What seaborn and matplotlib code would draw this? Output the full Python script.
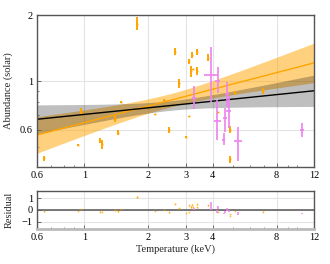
import numpy as np
import matplotlib
matplotlib.use("Agg")
import matplotlib.pyplot as plt
import seaborn as sns
from matplotlib.ticker import FixedLocator, FixedFormatter, NullFormatter

# orange sample: temperature, abundance, abundance error
kt_a = [0.65, 0.93, 0.966, 1.19, 1.21, 1.40, 1.44, 1.49, 1.76, 2.15,
        2.37, 2.51, 2.66, 2.78, 3.01, 3.10, 3.11, 3.16, 3.21, 3.23,
        3.38, 3.39, 3.81, 4.26, 4.84, 4.82, 5.10, 6.93]
ab_a = [0.445, 0.51, 0.73, 0.535, 0.514, 0.67, 0.58, 0.80, 1.83, 0.704,
        0.82, 0.597, 1.36, 0.976, 0.556, 1.23, 0.69, 1.11, 1.32, 1.13,
        1.36, 1.11, 1.28, 0.72, 0.60, 0.44, 0.88, 0.90]
err_a = [0.012, 0.005, 0.02, 0.014, 0.026, 0.021, 0.015, 0.008, 0.12, 0.005,
         0.005, 0.019, 0.05, 0.05, 0.005, 0.035, 0.005, 0.065, 0.04, 0.01,
         0.04, 0.047, 0.045, 0.005, 0.023, 0.016, 0.018, 0.03]

# violet sample: temperature (+/- err), abundance (-lo, +hi)
kt_b = [3.27, 3.94, 4.23, 4.22, 4.51, 4.58, 4.66, 4.77, 5.26, 10.5]
kt_b_err = [0.07, 0.30, 0.12, 0.15, 0.06, 0.12, 0.10, 0.13, 0.24, 0.20]
ab_b = [0.835, 1.06, 1.00, 0.66, 0.54, 0.676, 0.87, 0.732, 0.53, 0.60]
ab_b_lo = [0.09, 0.26, 0.12, 0.12, 0.03, 0.09, 0.11, 0.12, 0.10, 0.045]
ab_b_hi = [0.11, 0.37, 0.16, 0.16, 0.04, 0.074, 0.12, 0.12, 0.09, 0.045]

# power-law fits A = norm * (kT/pivot)**slope, log-space uncertainties
pivot = 2.5
fit_a = dict(norm=0.814, slope=0.253, s_norm=0.07, s_slope=0.125)
fit_b = dict(norm=0.772, slope=0.10, s_norm=0.05, s_slope=0.10)


def model(x, f):
    return f["norm"] * (np.asarray(x) / pivot) ** f["slope"]


def band(x, f):
    lx = np.log(np.asarray(x) / pivot)
    s = np.sqrt(f["s_norm"] ** 2 + (f["s_slope"] * lx) ** 2)
    m = model(x, f)
    return m * np.exp(-s), m * np.exp(s)


sns.set_style("ticks")
plt.rcParams["font.family"] = ["Liberation Serif", "DejaVu Serif"]
plt.rcParams["font.size"] = 7.5

fig = plt.figure(figsize=(3.3, 2.64), dpi=100)
ax = fig.add_axes([0.112, 0.367, 0.84, 0.576])
axr = fig.add_axes([0.112, 0.133, 0.84, 0.144])

xx = np.geomspace(0.6, 12, 200)
lo, hi = band(xx, fit_a)
ax.fill_between(xx, lo, hi, color="orange", alpha=0.5, lw=0, zorder=1)
lo, hi = band(xx, fit_b)
ax.fill_between(xx, lo, hi, color="black", alpha=0.25, lw=0, zorder=1)
sns.lineplot(x=xx, y=model(xx, fit_a), color="orange", lw=1, ax=ax, zorder=2)
sns.lineplot(x=xx, y=model(xx, fit_b), color="black", lw=1, ax=ax, zorder=2)

ax.errorbar(kt_a, ab_a, yerr=err_a, fmt="s", ms=1.3, mew=0, color="orange",
            elinewidth=1.4, capsize=0, zorder=3)
ax.errorbar(kt_b, ab_b, xerr=kt_b_err, yerr=[ab_b_lo, ab_b_hi], fmt="none",
            ecolor="violet", elinewidth=1.2, capsize=0, zorder=3)

# residuals
res_a = np.array(ab_a) - model(kt_a, fit_a)
res_b = np.array(ab_b) - model(kt_b, fit_b)
axr.axhline(0, color="#555555", lw=1.1, zorder=1)
axr.errorbar(kt_a, res_a, yerr=err_a, fmt="s", ms=1.1, mew=0, color="orange",
             elinewidth=0.9, capsize=0, alpha=0.8, zorder=3)
axr.errorbar(kt_b, res_b, yerr=[ab_b_lo, ab_b_hi], fmt="none",
             ecolor="violet", elinewidth=1.1, capsize=0, zorder=3)

xt = [0.6, 1, 2, 3, 4, 8, 12]
for a in (ax, axr):
    a.set_xscale("log")
    a.set_xlim(0.6, 12)
    a.xaxis.set_major_locator(FixedLocator(xt))
    a.xaxis.set_major_formatter(FixedFormatter([str(t) for t in xt]))
    a.xaxis.set_minor_locator(FixedLocator([0.7, 0.8, 0.9, 5, 6, 7, 9, 10]))
    a.xaxis.set_minor_formatter(NullFormatter())
    a.grid(True, which="major", color="#e4e4e4", lw=0.8)
    a.set_axisbelow(True)
    a.tick_params(which="both", direction="in", colors="#555555",
                  labelcolor="black", pad=3)
    a.tick_params(which="major", length=3, width=0.6)
    a.tick_params(which="minor", length=1.5, width=0.5)
    for sp in a.spines.values():
        sp.set_color("#555555")
        sp.set_linewidth(1.0)

ax.set_yscale("log")
ax.set_ylim(0.405, 2)
ax.yaxis.set_major_locator(FixedLocator([0.6, 1, 2]))
ax.yaxis.set_major_formatter(FixedFormatter(["0.6", "1", "2"]))
ax.yaxis.set_minor_locator(FixedLocator([0.5, 0.7, 0.8, 0.9]))
ax.yaxis.set_minor_formatter(NullFormatter())
ax.set_ylabel("Abundance (solar)")
ax.yaxis.set_label_coords(-0.085, 0.5)

axr.set_ylim(-1.6, 1.6)
axr.set_yticks([-1, 0, 1])
axr.set_yticklabels(["\u22121", "0", "1"])
axr.spines["bottom"].set_color("#bbbbbb")
axr.spines["bottom"].set_linewidth(2)
axr.set_ylabel("Residual")
axr.yaxis.set_label_coords(-0.085, 0.5)
axr.set_xlabel("Temperature (keV)", labelpad=2)

fig.savefig("out.png", dpi=100)
